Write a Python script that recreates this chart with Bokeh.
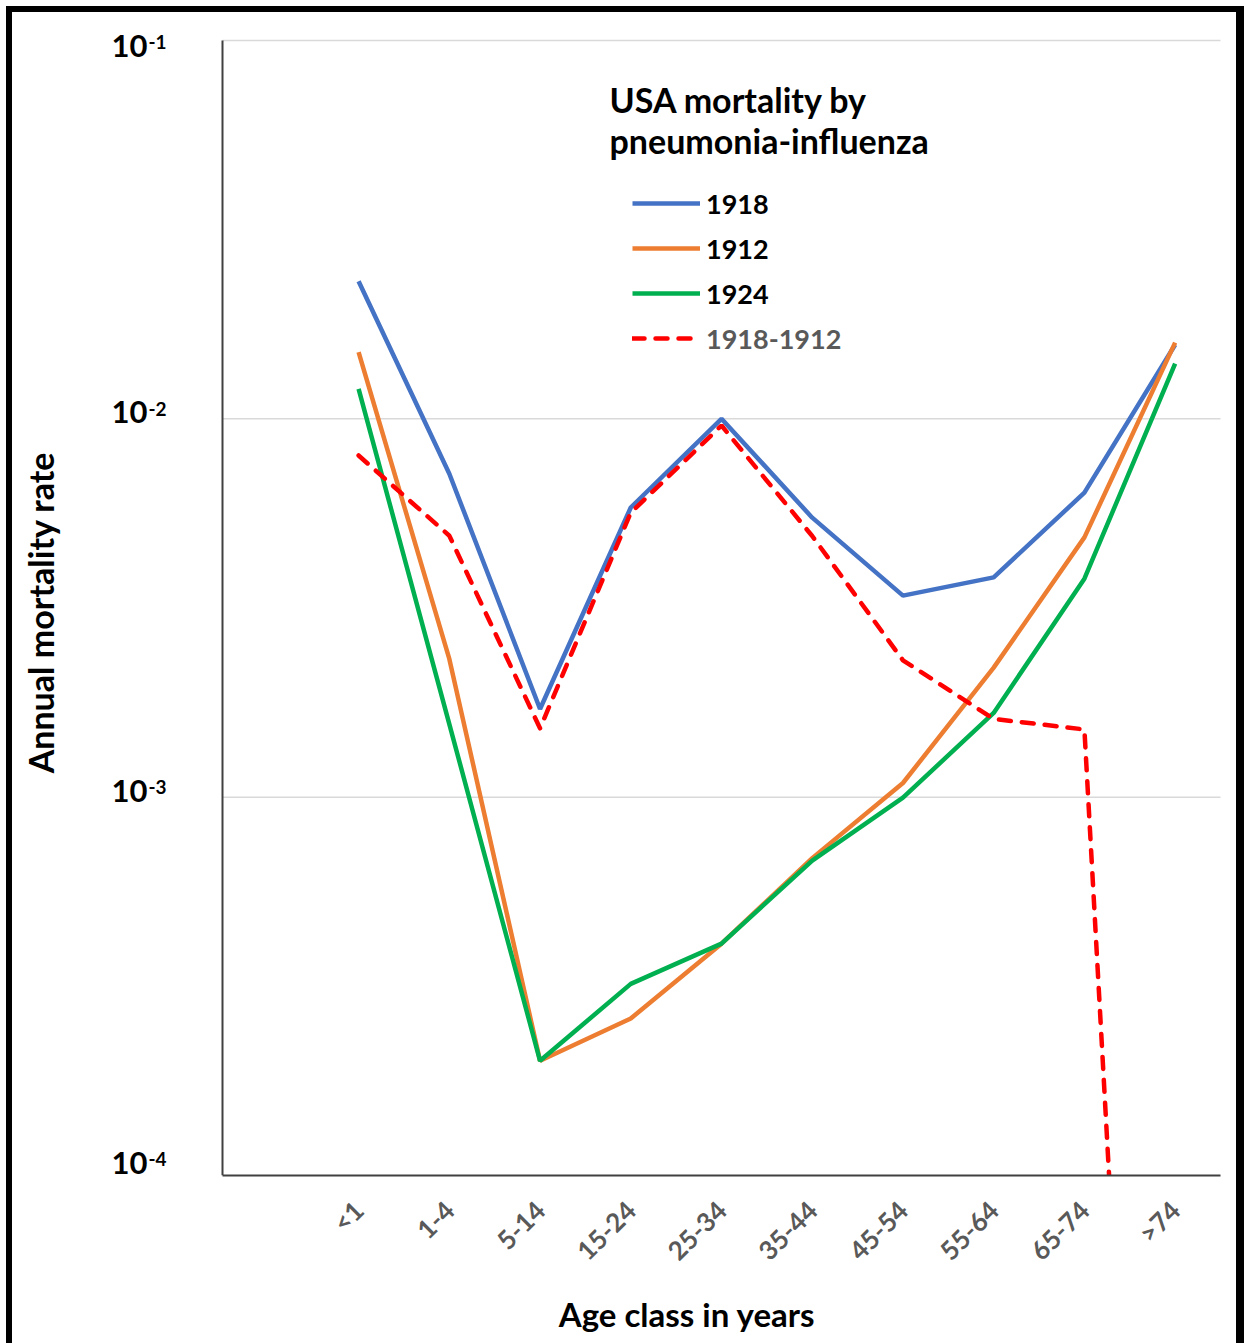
import math
from bokeh.plotting import figure
from bokeh.models import (Range1d, FixedTicker, CustomJSTickFormatter, Legend,
                          LegendItem, Label)
from bokeh.embed import file_html
from bokeh.resources import INLINE

# ---------------- data ----------------
age_classes = ["<1", "1-4", "5-14", "15-24", "25-34", "35-44",
               "45-54", "55-64", "65-74", ">74"]
mort_1918 = [0.0231, 0.00716, 0.00171, 0.00583, 0.0100, 0.00548,
             0.00341, 0.00381, 0.00638, 0.0157]
mort_1912 = [0.0150, 0.00232, 0.000201, 0.00026, 0.00041, 0.00069,
             0.00109, 0.00220, 0.00486, 0.0159]
mort_1924 = [0.0120, 0.00156, 0.000201, 0.000321, 0.00041, 0.00068,
             0.000997, 0.00167, 0.00378, 0.0140]
diff_1918_1912 = [0.0080, 0.00491, 0.00152, 0.00565, 0.0096, 0.0049,
                  0.0023, 0.00161, 0.00151, 7e-8]
y_ticks = [1e-4, 1e-3, 1e-2, 1e-1]
y_exponents = ["-4", "-3", "-2", "-1"]
legend_title = ["USA mortality by", "pneumonia-influenza"]
x_title = "Age class in years"
y_title = "Annual mortality rate"

# ---------------- page geometry (pixels) ----------------
FONT = "Lato"
MARGIN, BORDER = 6, 6
ORIGIN = MARGIN + BORDER            # where the canvas starts on the page
W, H = 1238, 1337                   # figure element size
PLOT_L, PLOT_R, PLOT_T, PLOT_B = 222, 1220, 40, 1175
X_LO, X_HI = -1.5, len(age_classes) - 0.5

unit = (PLOT_R - PLOT_L) / (X_HI - X_LO)
x_start = X_LO - (PLOT_L - ORIGIN) / unit
x_end = X_HI + (ORIGIN + W - PLOT_R) / unit
LOG_TOP = math.log10(y_ticks[-1])
decade = (PLOT_B - PLOT_T) / (LOG_TOP - math.log10(y_ticks[0]))
y_end = 10 ** (LOG_TOP + (PLOT_T - ORIGIN) / decade)


def px_x(px):
    return x_start + (px - ORIGIN) / unit


def py_y(py):
    return 10 ** (LOG_TOP - (py - PLOT_T) / decade)


def y_py(v):
    return PLOT_T + (LOG_TOP - math.log10(v)) * decade


x = list(range(len(age_classes)))

p = figure(width=W, height=H, y_axis_type="log", y_axis_location=None,
           x_range=Range1d(x_start, x_end),
           y_range=Range1d(y_ticks[0], y_end),
           output_backend="svg", toolbar_location=None,
           min_border_left=0, min_border_right=0,
           min_border_top=0, min_border_bottom=H - (PLOT_B - ORIGIN))
p.styles = {"margin": f"{MARGIN}px 0 0 {MARGIN}px",
            "border-left": f"{BORDER}px solid black",
            "border-top": f"{BORDER}px solid black",
            "border-right": "8px solid black"}
p.outline_line_color = None
p.background_fill_color = "white"
p.border_fill_color = "white"
p.xgrid.visible = False
p.ygrid.visible = False

# horizontal grid lines and the vertical value axis line
grid_vals = y_ticks[1:]
p.segment(x0=[X_LO] * len(grid_vals), y0=grid_vals,
          x1=[X_HI] * len(grid_vals), y1=grid_vals,
          line_color="#D9D9D9", line_width=1.5)
p.segment(x0=[X_LO], y0=[y_ticks[0]], x1=[X_LO], y1=[y_ticks[-1]],
          line_color="#404040", line_width=2)

# series
r1918 = p.line(x, mort_1918, line_color="#4472C4", line_width=4.5)
r1912 = p.line(x, mort_1912, line_color="#ED7D31", line_width=4.5)
r1924 = p.line(x, mort_1924, line_color="#00B050", line_width=4.5)
rdiff = p.line(x, diff_1918_1912, line_color="#FF0000", line_width=4.5,
               line_dash="12 11", line_cap="round")

# category axis
xa = p.xaxis[0]
xa.bounds = (X_LO, X_HI)
xa.ticker = FixedTicker(ticks=x)
xa.formatter = CustomJSTickFormatter(
    args=dict(cats=age_classes),
    code="const c = cats[Math.round(tick)]; return c === undefined ? '' : c;")
xa.major_label_orientation = math.pi / 4
xa.major_label_text_font = FONT
xa.major_label_text_font_style = "bold"
xa.major_label_text_font_size = "26px"
xa.major_label_text_color = "#595959"
xa.major_label_standoff = 24
xa.major_tick_line_color = None
xa.minor_tick_line_color = None
xa.axis_line_color = "#404040"
xa.axis_line_width = 2
# the axis title sits right of the frame centre: pad it with no-break spaces
xa.axis_label = "\u00a0" * 14 + x_title
xa.axis_label_text_font = FONT
xa.axis_label_text_font_style = "bold"
xa.axis_label_text_font_size = "33px"
xa.axis_label_text_color = "black"
xa.axis_label_standoff = 13

# value axis labels: "10" with a raised exponent
for tv, ex in zip(y_ticks, y_exponents):
    centre = min(max(y_py(tv) - 6.5, PLOT_T + 5), PLOT_B - 13)
    p.add_layout(Label(x=px_x(147), y=py_y(centre), text="10",
                       text_font=FONT, text_font_style="bold",
                       text_font_size="31px", text_color="black",
                       text_align="right", text_baseline="middle"))
    p.add_layout(Label(x=px_x(148), y=py_y(centre - 3.5), text=ex,
                       text_font=FONT, text_font_style="bold",
                       text_font_size="19px", text_color="black",
                       text_align="left", text_baseline="middle"))

p.add_layout(Label(x=px_x(40), y=py_y(612), text=y_title,
                   angle=math.pi / 2, text_font=FONT, text_font_style="bold",
                   text_font_size="34px", text_color="black",
                   text_align="center", text_baseline="middle"))

# legend title (two lines)
for txt, centre in zip(legend_title, [98.5, 140]):
    p.add_layout(Label(x=px_x(609), y=py_y(centre), text=txt, text_font=FONT,
                       text_font_style="bold", text_font_size="34px",
                       text_color="black", text_baseline="middle",
                       text_align="left"))


def make_legend(items, loc, color):
    lg = Legend(items=items, location=loc, orientation="vertical")
    lg.glyph_width = 68
    lg.glyph_height = 42
    lg.label_height = 42
    lg.spacing = 3
    lg.padding = 0
    lg.margin = 0
    lg.label_standoff = 6
    lg.border_line_color = None
    lg.background_fill_alpha = 0
    lg.label_text_font = FONT
    lg.label_text_font_style = "bold"
    lg.label_text_font_size = "27px"
    lg.label_text_color = color
    return lg


LEG_LEFT = 632 - ORIGIN
leg1 = make_legend([LegendItem(label="1918", renderers=[r1918]),
                    LegendItem(label="1912", renderers=[r1912]),
                    LegendItem(label="1924", renderers=[r1924])],
                   (LEG_LEFT, PLOT_B - 314), "black")
leg2 = make_legend([LegendItem(label="1918-1912", renderers=[rdiff])],
                   (LEG_LEFT, PLOT_B - 359), "#595959")
p.add_layout(leg1)
p.add_layout(leg2)

open("out.html", "w", encoding="utf-8").write(file_html(p, INLINE))
